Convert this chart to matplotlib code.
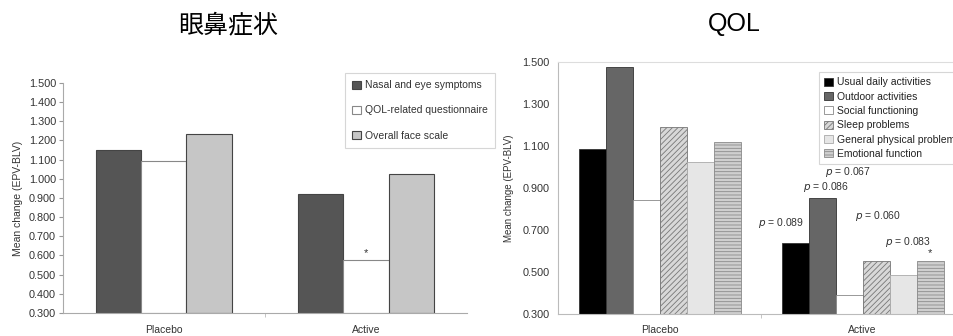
import matplotlib.pyplot as plt
import numpy as np

plt.rcParams['font.family'] = ['Liberation Sans', 'Noto Sans CJK JP', 'DejaVu Sans']
plt.rcParams['hatch.linewidth'] = 0.6

groups = ['Placebo', 'Active']

# left panel: eye/nose symptoms
left_series = ['Nasal and eye symptoms', 'QOL-related questionnaire', 'Overall face scale']
left_vals = [[1.150, 0.920],
             [1.095, 0.575],
             [1.235, 1.025]]
left_colors = ['#555555', 'white', '#c6c6c6']

# right panel: QOL domains
right_series = ['Usual daily activities', 'Outdoor activities', 'Social functioning',
                'Sleep problems', 'General physical problem', 'Emotional function']
right_vals = [[1.086, 0.637],
              [1.478, 0.851],
              [0.841, 0.389],
              [1.190, 0.554],
              [1.022, 0.484],
              [1.119, 0.554]]
right_colors = ['#000000', '#666666', 'white', '#d8d8d8', '#e6e6e6', '#cfcfcf']
right_hatch = [None, None, None, '//////', None, '-----']
p_labels = ['p = 0.089', 'p = 0.086', None, 'p = 0.067', 'p = 0.060', 'p = 0.083']

fig = plt.figure(figsize=(9.54, 3.36), dpi=100)

# ---- left
ax1 = fig.add_axes([0.066, 0.0685, 0.4235, 0.6845])
x = np.arange(len(groups))
w = 0.223
for i, (name, vals) in enumerate(zip(left_series, left_vals)):
    ax1.bar(x + (i - 1) * w, np.array(vals) - 0.3, w, bottom=0.3, color=left_colors[i],
            edgecolor='#444444' if i != 1 else '#888888', linewidth=0.8, label=name)
ax1.text(x[1], left_vals[1][1] + 0.01, '*', ha='center', va='bottom', fontsize=8, color='#333333')
ax1.set_xlim(-0.5, 1.5)
ax1.set_ylim(0.3, 1.5)
ax1.set_yticks(np.arange(0.3, 1.501, 0.1))
ax1.set_yticklabels([f'{v:.3f}' for v in np.arange(0.3, 1.501, 0.1)], fontsize=7.8, color='#333333')
ax1.set_ylabel('Mean change (EPV-BLV)', fontsize=7.5, color='#333333', labelpad=4)
ax1.set_xticks(x)
ax1.set_xticklabels(groups, fontsize=7.5, color='#333333')
ax1.set_xticks([0.5], minor=True)
ax1.tick_params(axis='x', which='major', length=0, pad=9)
ax1.tick_params(axis='x', which='minor', length=3, color='#bbbbbb')
ax1.tick_params(axis='y', length=3, color='#999999', pad=2)
for s in ['top', 'right']:
    ax1.spines[s].set_visible(False)
for s in ['left', 'bottom']:
    ax1.spines[s].set_color('#aaaaaa')
    ax1.spines[s].set_linewidth(0.8)
leg1 = ax1.legend(loc='upper left', bbox_to_anchor=(0.3616, 0.7827), bbox_transform=fig.transFigure,
                  fontsize=7.5, frameon=True, fancybox=False, edgecolor='#cccccc', labelspacing=1.45,
                  handlelength=0.8, handleheight=0.8, handletextpad=0.4, borderpad=0.7,
                  borderaxespad=0)
leg1.get_frame().set_linewidth(0.8)
for t in leg1.get_texts():
    t.set_color('#333333')

fig.text(0.239, 0.925, '眼鼻症状', ha='center', va='center', fontsize=18)

# ---- right
ax2 = fig.add_axes([0.585, 0.0655, 0.4256, 0.75])
w2 = 0.133
n = len(right_series)
for i, (name, vals) in enumerate(zip(right_series, right_vals)):
    pos = x + (i - (n - 1) / 2) * w2
    ec = '#333333'
    if right_hatch[i] == '//////':
        ec = '#777777'
    elif right_hatch[i] == '-----':
        ec = '#8a8a8a'
    elif i == 2:
        ec = '#888888'
    elif i == 4:
        ec = '#aaaaaa'
    ax2.bar(pos, np.array(vals) - 0.3, w2, bottom=0.3, color=right_colors[i], edgecolor=ec,
            linewidth=0.6, hatch=right_hatch[i], label=name)

# p-value labels over active bars
p_pos = {0: (781, 223), 1: (826, 187), 3: (848, 172), 4: (878, 216), 5: (908, 242)}
for i, lab in enumerate(p_labels):
    if lab is None:
        continue
    xp, yp = p_pos[i]
    fig.text(xp / 954, 1 - yp / 336, r'$\it{p}$' + lab[1:], ha='center', va='center',
             fontsize=7.5, color='#333333')
ax2.text(x[1] + 2.5 * w2, right_vals[5][1] + 0.01, '*', ha='center', va='bottom',
         fontsize=8, color='#333333')

ax2.set_xlim(-0.5, 1.5)
ax2.set_ylim(0.3, 1.5)
ax2.set_yticks(np.arange(0.3, 1.501, 0.2))
ax2.set_yticklabels([f'{v:.3f}' for v in np.arange(0.3, 1.501, 0.2)], fontsize=7.8, color='#333333')
ax2.set_ylabel('Mean change (EPV-BLV)', fontsize=7, color='#333333', labelpad=6)
ax2.set_xticks(x)
ax2.set_xticklabels(groups, fontsize=7.5, color='#333333')
ax2.set_xticks([0.5], minor=True)
ax2.tick_params(axis='x', which='major', length=0, pad=8)
ax2.tick_params(axis='x', which='minor', length=3, color='#bbbbbb')
ax2.tick_params(axis='y', length=0, pad=6)
for s in ['top', 'right', 'left', 'bottom']:
    ax2.spines[s].set_color('#bbbbbb')
    ax2.spines[s].set_linewidth(0.8)
ax2.spines['top'].set_color('#dddddd')
leg2 = ax2.legend(loc='upper left', bbox_to_anchor=(0.8585, 0.7857), bbox_transform=fig.transFigure,
                  fontsize=7.5, frameon=True, fancybox=False, edgecolor='#cccccc', labelspacing=0.42,
                  handlelength=0.8, handleheight=0.8, handletextpad=0.4, borderpad=0.5,
                  borderaxespad=0)
leg2.get_frame().set_linewidth(0.8)
for t in leg2.get_texts():
    t.set_color('#222222')

fig.text(0.77, 0.928, 'QOL', ha='center', va='center', fontsize=18)

fig.savefig('out.png', dpi=100)
